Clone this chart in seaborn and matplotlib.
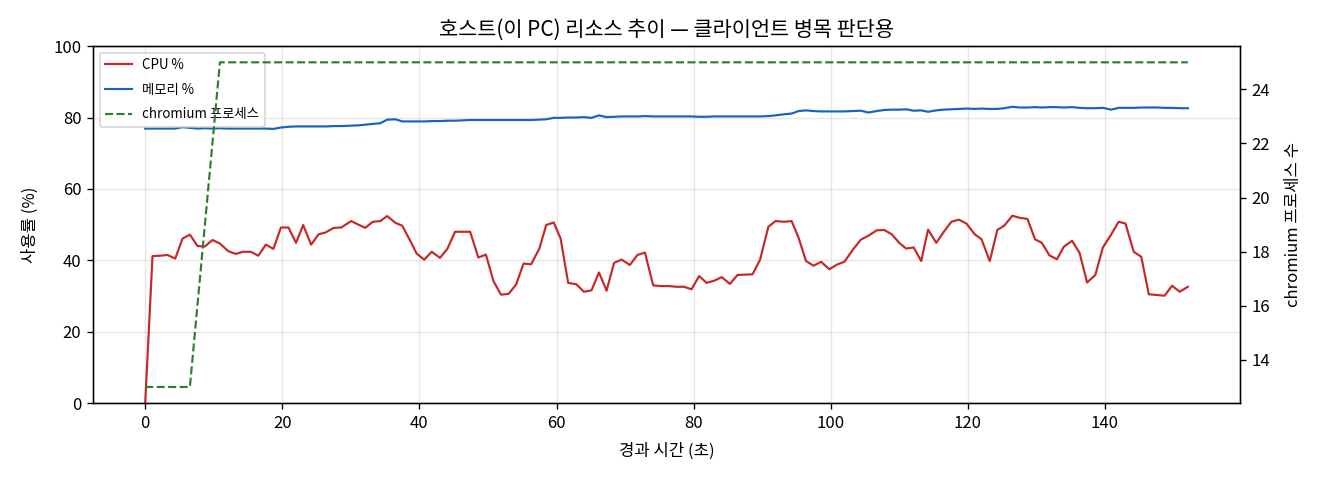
import numpy as np
import pandas as pd
import matplotlib
matplotlib.use("Agg")
import matplotlib.pyplot as plt
import seaborn as sns

plt.rcParams['font.family'] = ['Noto Sans CJK KR', 'DejaVu Sans']
plt.rcParams['axes.unicode_minus'] = False

elapsed_s = [
    0.0, 1.07, 2.15, 3.26, 4.38, 5.45, 6.52, 7.64, 8.71, 9.82,
    10.9, 12.1, 13.2, 14.3, 15.4, 16.5, 17.6, 18.7, 19.8, 20.9,
    22.0, 23.05, 24.2, 25.3, 26.3, 27.5, 28.6, 30.05, 31.1, 32.1,
    33.2, 34.3, 35.3, 36.5, 37.5, 38.6, 39.6, 40.7, 41.8, 43.0,
    44.1, 45.2, 46.4, 47.4, 48.6, 49.7, 50.8, 51.9, 53.0, 54.1,
    55.2, 56.3, 57.5, 58.5, 59.6, 60.6, 61.7, 62.9, 64.0, 65.1,
    66.2, 67.3, 68.4, 69.5, 70.7, 71.8, 72.9, 74.1, 75.2, 76.4,
    77.5, 78.6, 79.7, 80.8, 81.9, 83.0, 84.1, 85.3, 86.4, 87.5,
    88.6, 89.7, 90.9, 91.95, 93.2, 94.3, 95.3, 96.4, 97.5, 98.6,
    99.8, 100.9, 102.0, 103.2, 104.4, 105.5, 106.7, 107.8, 108.9, 110.0,
    111.0, 112.1, 113.2, 114.2, 115.4, 116.5, 117.6, 118.7, 119.8, 121.0,
    122.0, 123.2, 124.3, 125.3, 126.5, 127.6, 128.7, 129.8, 130.8, 131.9,
    133.0, 134.0, 135.2, 136.3, 137.4, 138.6, 139.7, 140.9, 142.0, 143.0,
    144.2, 145.3, 146.4, 147.6, 148.7, 149.8, 150.9, 152.1,
]

cpu_pct = [
    0.0, 41.2, 41.3, 41.5, 40.5, 46.1, 47.2, 44.0, 43.9, 45.7,
    44.7, 42.6, 41.8, 42.4, 42.4, 41.3, 44.4, 43.2, 49.2, 49.2,
    44.9, 49.9, 44.4, 47.3, 47.8, 49.1, 49.2, 51.0, 50.0, 49.1,
    50.8, 51.0, 52.4, 50.5, 49.7, 45.7, 41.9, 40.2, 42.4, 40.7,
    43.3, 48.0, 48.0, 48.0, 40.8, 41.6, 34.2, 30.4, 30.6, 33.2,
    39.1, 38.9, 43.3, 49.9, 50.6, 46.1, 33.7, 33.3, 31.2, 31.6,
    36.6, 31.5, 39.3, 40.2, 38.7, 41.5, 42.2, 33.0, 32.8, 32.8,
    32.6, 32.6, 31.9, 35.6, 33.7, 34.3, 35.3, 33.4, 35.9, 36.0,
    36.1, 40.2, 49.4, 51.0, 50.8, 51.0, 46.4, 39.8, 38.5, 39.6,
    37.5, 38.8, 39.6, 42.9, 45.8, 46.9, 48.4, 48.5, 47.3, 44.9,
    43.3, 43.6, 39.8, 48.6, 44.9, 48.0, 50.8, 51.4, 50.3, 47.3,
    45.9, 39.8, 48.5, 49.7, 52.5, 51.9, 51.6, 45.9, 44.9, 41.4,
    40.3, 43.8, 45.5, 42.1, 33.8, 35.9, 43.6, 47.2, 50.8, 50.3,
    42.4, 41.0, 30.5, 30.3, 30.1, 32.9, 31.2, 32.6,
]

mem_pct = [
    76.9, 76.9, 76.9, 76.9, 76.9, 77.3, 77.1, 76.9, 77.0, 76.9,
    77.0, 76.9, 76.9, 76.9, 76.9, 76.9, 76.9, 76.8, 77.2, 77.4,
    77.5, 77.5, 77.5, 77.5, 77.5, 77.6, 77.6, 77.7, 77.8, 78.0,
    78.2, 78.4, 79.4, 79.5, 78.9, 78.9, 78.9, 78.9, 79.0, 79.0,
    79.1, 79.1, 79.2, 79.3, 79.3, 79.3, 79.3, 79.3, 79.3, 79.3,
    79.3, 79.3, 79.4, 79.5, 79.9, 79.9, 80.0, 80.0, 80.1, 79.9,
    80.6, 80.1, 80.2, 80.3, 80.3, 80.3, 80.4, 80.3, 80.3, 80.3,
    80.3, 80.3, 80.3, 80.2, 80.2, 80.3, 80.3, 80.3, 80.3, 80.3,
    80.3, 80.3, 80.4, 80.6, 80.9, 81.1, 81.8, 82.0, 81.8, 81.7,
    81.7, 81.7, 81.7, 81.8, 81.9, 81.4, 81.8, 82.1, 82.2, 82.2,
    82.3, 81.9, 82.0, 81.6, 82.0, 82.2, 82.3, 82.4, 82.5, 82.4,
    82.5, 82.4, 82.4, 82.6, 83.0, 82.8, 82.8, 82.9, 82.8, 82.9,
    82.9, 82.8, 82.9, 82.7, 82.6, 82.6, 82.7, 82.2, 82.7, 82.7,
    82.7, 82.8, 82.8, 82.8, 82.7, 82.7, 82.6, 82.6,
]

chromium_t = [0.0, 6.52, 10.9, 152.1]
chromium_n = [13, 13, 25, 25]

df = pd.DataFrame({"t": elapsed_s, "cpu": cpu_pct, "mem": mem_pct})
df_chr = pd.DataFrame({"t": chromium_t, "n": chromium_n})

fig, ax = plt.subplots(figsize=(11, 4), dpi=120)
ax2 = ax.twinx()

sns.lineplot(data=df, x="t", y="cpu", ax=ax, color="#c62828", linewidth=1.3,
             label="CPU %", sort=False, estimator=None)
sns.lineplot(data=df, x="t", y="mem", ax=ax, color="#1565c0", linewidth=1.3,
             label="메모리 %", sort=False, estimator=None)
sns.lineplot(data=df_chr, x="t", y="n", ax=ax2, color="#2e7d32", linewidth=1.3,
             linestyle="--", label="chromium 프로세스", sort=False, estimator=None)

ax.set_ylim(0, 100)
ax.set_xlabel("경과 시간 (초)", fontsize=10, labelpad=6.5)
ax.set_ylabel("사용률 (%)", fontsize=10, labelpad=8.5)
ax2.set_ylabel("chromium 프로세스 수", fontsize=10, labelpad=9)
ax.set_title("호스트(이 PC) 리소스 추이 — 클라이언트 병목 판단용", fontsize=12.5)
ax.grid(True, alpha=0.3)
ax.tick_params(labelsize=10)
ax2.tick_params(labelsize=10)

h1, l1 = ax.get_legend_handles_labels()
h2, l2 = ax2.get_legend_handles_labels()
if ax2.get_legend() is not None:
    ax2.get_legend().remove()
ax.legend(h1 + h2, l1 + l2, loc="upper left", fontsize=8, labelspacing=0.8)

fig.subplots_adjust(left=0.0705, right=0.9394, top=0.904, bottom=0.16)
fig.savefig("out.png", dpi=120)
